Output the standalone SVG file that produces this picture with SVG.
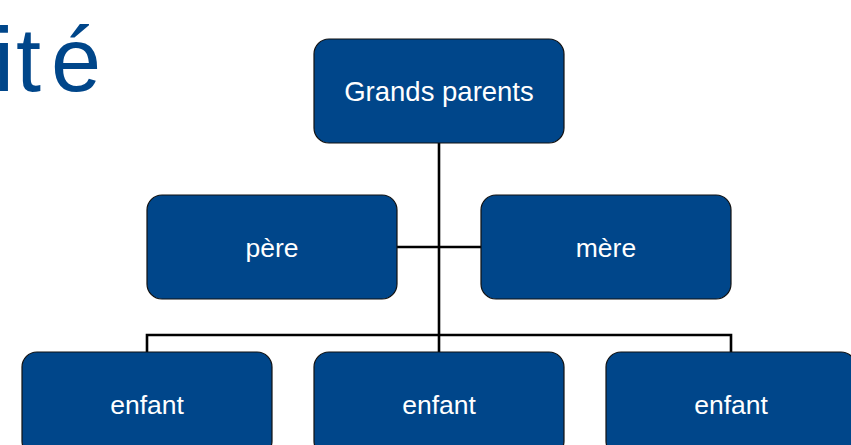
<svg xmlns="http://www.w3.org/2000/svg" width="851" height="445" viewBox="0 0 851 445">
<style>
.box{fill:#00468a;stroke:#111;stroke-width:1.2}
.lbl{fill:#fff;font-family:"Liberation Sans",Arial,sans-serif;font-size:26.5px;text-anchor:middle}
.con{fill:none;stroke:#000;stroke-width:2.6}
</style>
<rect width="851" height="445" fill="#fff"/>
<text font-family="Liberation Sans,Arial,sans-serif" font-size="90" fill="#00468a" y="91"><tspan x="-6">i</tspan><tspan x="16">t</tspan><tspan x="51">é</tspan></text>
<g id="connectors">
<line class="con" x1="439" y1="143" x2="439" y2="352"/>
<line class="con" x1="397" y1="247" x2="481" y2="247"/>
<polyline class="con" points="147,352 147,335 731,335 731,352"/>
</g>
<g id="grands-parents"><rect class="box" x="314" y="39" width="250" height="104" rx="15"/><text class="lbl" x="439" y="101" style="font-size:27.5px">Grands parents</text></g>
<g id="pere"><rect class="box" x="147" y="195" width="250" height="104" rx="15"/><text class="lbl" x="272" y="257">père</text></g>
<g id="mere"><rect class="box" x="481" y="195" width="250" height="104" rx="15"/><text class="lbl" x="606" y="257">mère</text></g>
<g id="enfant1"><rect class="box" x="22" y="352" width="250" height="104" rx="15"/><text class="lbl" x="147" y="414">enfant</text></g>
<g id="enfant2"><rect class="box" x="314" y="352" width="250" height="104" rx="15"/><text class="lbl" x="439" y="414">enfant</text></g>
<g id="enfant3"><rect class="box" x="606" y="352" width="250" height="104" rx="15"/><text class="lbl" x="731" y="414">enfant</text></g>
</svg>
